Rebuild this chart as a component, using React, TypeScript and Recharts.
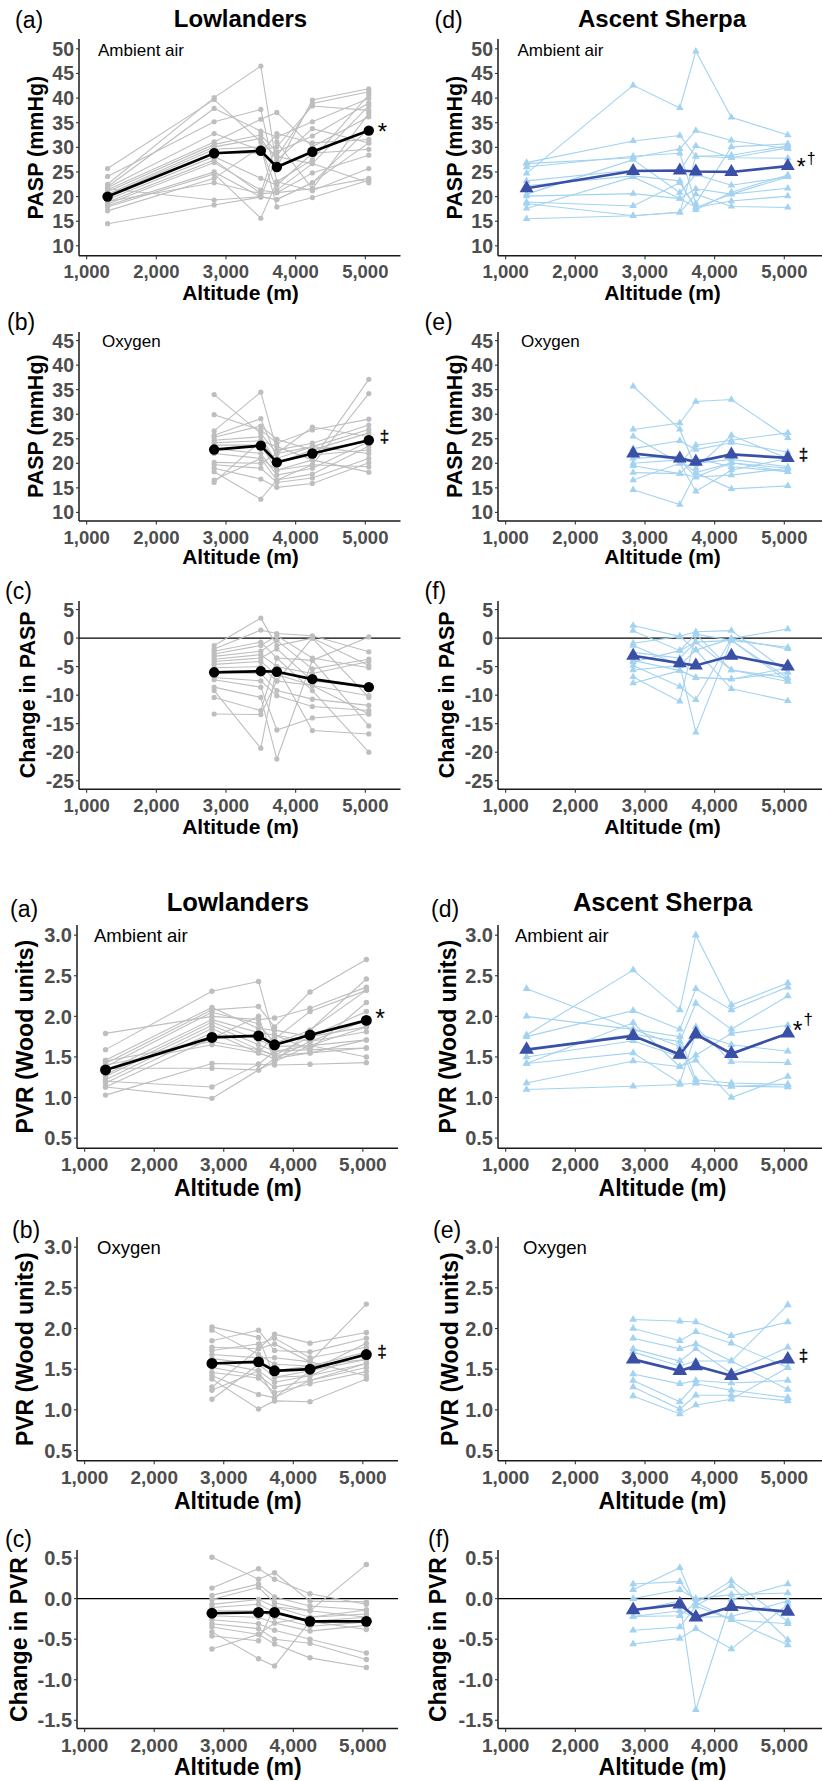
import React from 'react';
import { LineChart, Line, XAxis, YAxis, ReferenceLine } from 'recharts';

const FONT = '"Liberation Sans", Arial, Helvetica, sans-serif';

// ---------- data ----------
const ALTITUDES = [1300, 2830, 3500, 3730, 4240, 5050];
const ALTITUDES_O2 = [2830, 3500, 3730, 4240, 5050];
const X_TICKS = [1000, 2000, 3000, 4000, 5000];

const PASP_AMB_TICKS = [10, 15, 20, 25, 30, 35, 40, 45, 50];
const PASP_O2_TICKS = [10, 15, 20, 25, 30, 35, 40, 45];
const PASP_DIFF_TICKS = [-25, -20, -15, -10, -5, 0, 5];
const PVR_TICKS = [0.5, 1.0, 1.5, 2.0, 2.5, 3.0];
const PVR_DIFF_TICKS = [-1.5, -1.0, -0.5, 0.0, 0.5];

const PASP_LOW_AMB = [
  [25.7, 39.7, 31.1, 28.1, 38.9, 41.3],
  [24.1, 35.2, 37.7, 23.0, 27.5, 40.7],
  [22.5, 40.1, 46.5, 26.0, 39.6, 41.9],
  [22.0, 37.9, 33.3, 32.1, 35.2, 39.9],
  [21.8, 32.8, 29.4, 30.1, 38.4, 37.5],
  [21.4, 31.1, 35.7, 37.1, 30.1, 36.2],
  [21.0, 30.6, 32.5, 29.1, 32.3, 39.0],
  [20.5, 30.1, 31.8, 27.4, 33.8, 30.9],
  [20.2, 29.6, 30.1, 21.3, 26.7, 38.4],
  [19.9, 28.8, 28.8, 32.8, 30.9, 31.6],
  [19.4, 28.1, 23.7, 22.3, 28.8, 29.6],
  [18.9, 27.4, 20.6, 31.1, 21.6, 36.9],
  [18.5, 26.9, 21.3, 20.8, 24.8, 28.4],
  [18.2, 25.0, 19.9, 19.4, 22.8, 33.8],
  [17.9, 24.6, 15.6, 23.0, 21.2, 25.7],
  [17.1, 23.7, 30.1, 17.9, 19.8, 23.3],
  [19.0, 22.8, 20.6, 20.8, 21.6, 23.7],
  [14.5, 18.3, 19.9, 28.1, 26.7, 22.8],
  [21.6, 19.3, 20.0, 19.4, 22.8, 30.9],
];
const PASP_LOW_AMB_MEAN = [20.0, 28.8, 29.3, 26.0, 29.1, 33.4];

const PASP_SHERPA_AMB = [
  [24.7, 42.6, 38.0, 49.5, 36.1, 32.5],
  [26.9, 31.3, 32.4, 28.2, 28.4, 30.3],
  [26.7, 27.9, 29.7, 33.4, 31.4, 29.7],
  [26.0, 28.2, 28.8, 18.6, 30.1, 30.7],
  [23.2, 25.4, 25.2, 30.3, 27.9, 27.8],
  [22.2, 24.2, 23.2, 17.3, 20.9, 24.4],
  [20.5, 27.5, 20.8, 24.5, 22.3, 24.0],
  [20.1, 20.6, 19.6, 21.6, 20.5, 21.7],
  [18.9, 18.1, 22.8, 17.8, 19.1, 20.1],
  [18.6, 16.1, 16.8, 20.5, 18.0, 17.8],
  [17.6, 24.0, 19.6, 17.8, 20.5, 24.0],
  [15.5, 16.1, 16.8, 28.2, 27.9, 29.9],
];
const PASP_SHERPA_AMB_MEAN = [21.7, 25.2, 25.3, 25.1, 25.0, 26.2];

const PASP_LOW_O2 = [
  [34.0, 26.1, 22.0, 27.4, 25.4],
  [29.9, 26.8, 24.1, 26.8, 29.0],
  [26.6, 34.5, 22.7, 24.1, 27.8],
  [25.7, 29.1, 21.0, 23.4, 26.9],
  [25.3, 27.6, 24.9, 22.7, 26.2],
  [24.7, 25.4, 20.1, 21.7, 22.7],
  [24.2, 24.6, 23.4, 20.7, 37.1],
  [23.7, 23.7, 18.6, 19.7, 34.2],
  [23.0, 22.0, 17.6, 19.0, 24.4],
  [22.0, 21.0, 16.6, 17.8, 23.5],
  [20.2, 20.0, 22.0, 23.4, 22.0],
  [19.7, 19.0, 16.1, 17.0, 21.0],
  [19.0, 16.8, 15.1, 15.9, 20.1],
  [18.3, 12.7, 16.6, 19.7, 19.3],
  [16.6, 21.0, 18.6, 20.7, 18.2],
  [16.1, 24.6, 20.1, 22.7, 24.4],
];
const PASP_LOW_O2_MEAN = [22.8, 23.6, 20.2, 22.0, 24.7];

const PASP_SHERPA_O2 = [
  [35.7, 26.9, 19.0, 25.7, 21.0],
  [26.9, 28.2, 32.6, 33.0, 25.2],
  [25.5, 20.0, 23.7, 24.7, 26.2],
  [23.0, 24.6, 22.8, 24.2, 22.3],
  [21.0, 21.5, 20.0, 20.8, 19.3],
  [20.0, 20.7, 18.1, 20.1, 19.0],
  [19.5, 17.9, 21.0, 19.3, 18.3],
  [18.1, 17.9, 17.2, 17.6, 19.0],
  [16.6, 20.0, 14.3, 18.6, 21.0],
  [14.6, 11.6, 18.1, 14.8, 15.4],
  [21.9, 20.7, 17.2, 20.1, 18.3],
];
const PASP_SHERPA_O2_MEAN = [22.0, 21.0, 20.3, 21.8, 21.1];

const PASP_LOW_DIFF = [
  [-1.3, 3.5, -1.3, 0.0, -4.8],
  [-1.9, 1.4, 0.8, 0.4, -2.4],
  [-2.3, -0.7, -3.5, -3.9, 0.2],
  [-2.8, -1.3, 0.4, -3.5, -5.2],
  [-3.2, -2.3, -0.4, -5.4, -3.7],
  [-3.7, -2.9, -5.0, -6.2, -4.1],
  [-4.1, -3.5, -1.9, -7.5, -8.6],
  [-4.6, -4.1, -6.4, -8.3, -10.1],
  [-5.2, -5.0, -7.5, 0.0, -10.4],
  [-6.0, -6.2, -9.2, -10.7, -11.8],
  [-6.9, -7.5, -10.1, -12.0, -12.7],
  [-7.3, -8.6, -16.1, -14.0, -13.3],
  [-8.6, -10.4, -21.2, -3.9, -15.4],
  [-9.2, -19.3, -5.0, -16.2, -16.8],
  [-10.4, -12.7, -3.5, -9.2, -20.0],
  [-13.3, -13.4, -7.5, -8.3, -13.3],
];
const PASP_LOW_DIFF_MEAN = [-6.0, -5.8, -5.9, -7.2, -8.6];

const PASP_SHERPA_DIFF = [
  [2.2, 0.3, 1.1, 1.3, -6.0],
  [1.3, -2.2, 0.7, -0.4, -7.0],
  [-0.9, 0.3, -2.1, -0.1, 1.6],
  [-1.3, -4.8, -16.5, -0.4, -1.6],
  [-2.5, -3.5, -0.7, -5.6, -7.6],
  [-3.9, -5.7, -6.9, -7.2, -5.2],
  [-4.8, -8.5, -10.8, -0.1, -1.9],
  [-5.6, -4.8, -2.1, -8.9, -11.0],
  [-6.8, -11.1, 0.7, -5.6, -7.0],
  [-7.9, -5.7, -6.9, -7.2, -6.0],
  [-4.2, -2.2, -0.7, -0.4, -7.6],
];
const PASP_SHERPA_DIFF_MEAN = [-3.1, -4.4, -4.8, -3.1, -5.0];

const PVR_LOW_AMB = [
  [1.79, 2.00, 1.96, 1.98, 2.10, 2.36],
  [1.59, 2.31, 2.43, 1.72, 2.06, 2.32],
  [1.46, 2.11, 1.85, 1.83, 1.75, 1.87],
  [1.42, 2.08, 2.12, 1.87, 2.30, 2.70],
  [1.38, 2.05, 1.91, 1.67, 1.83, 2.46],
  [1.32, 1.96, 1.80, 1.77, 1.69, 1.81],
  [1.28, 1.93, 1.71, 1.63, 1.64, 1.71],
  [1.26, 1.89, 1.65, 1.57, 1.59, 2.17],
  [1.22, 1.85, 1.59, 1.52, 1.55, 1.61],
  [1.18, 1.80, 1.55, 1.48, 1.69, 1.95],
  [1.13, 1.73, 2.00, 1.44, 1.64, 1.50],
  [1.03, 1.42, 1.41, 1.40, 1.41, 1.43],
  [1.45, 1.69, 1.59, 1.52, 1.75, 2.06],
  [1.40, 1.65, 1.55, 1.77, 1.59, 1.61],
  [1.36, 1.36, 1.34, 1.48, 1.55, 1.71],
  [1.13, 0.99, 1.34, 1.44, 1.83, 2.32],
  [1.20, 1.13, 1.41, 1.57, 1.64, 1.87],
];
const PVR_LOW_AMB_MEAN = [1.34, 1.74, 1.76, 1.65, 1.77, 1.95];

const PVR_SHERPA_AMB = [
  [2.34, 1.84, 1.63, 1.18, 1.14, 1.13],
  [2.00, 1.84, 1.75, 1.22, 1.18, 1.16],
  [1.77, 2.57, 2.08, 3.00, 2.14, 2.41],
  [1.75, 2.07, 1.84, 2.34, 2.08, 2.36],
  [1.59, 1.78, 1.69, 2.16, 1.84, 2.25],
  [1.50, 1.70, 1.50, 1.87, 1.44, 1.43],
  [1.42, 1.92, 1.38, 1.52, 1.79, 1.89],
  [1.42, 1.55, 1.18, 1.79, 1.65, 1.57],
  [1.18, 1.45, 1.38, 1.46, 1.00, 1.26],
  [1.10, 1.14, 1.16, 1.18, 1.14, 1.16],
];
const PVR_SHERPA_AMB_MEAN = [1.59, 1.76, 1.53, 1.78, 1.54, 1.79];

const PVR_LOW_O2 = [
  [2.02, 1.89, 1.40, 1.48, 1.82],
  [1.98, 1.68, 1.56, 1.54, 1.62],
  [1.85, 1.98, 1.73, 1.71, 1.88],
  [1.77, 1.75, 1.93, 1.82, 1.95],
  [1.73, 1.81, 1.88, 1.64, 1.77],
  [1.68, 1.64, 1.64, 1.59, 2.30],
  [1.63, 1.56, 1.48, 1.54, 1.71],
  [1.59, 1.48, 1.34, 1.42, 1.57],
  [1.52, 1.42, 1.28, 1.36, 1.52],
  [1.46, 1.39, 1.21, 1.32, 1.47],
  [1.42, 1.19, 1.15, 1.48, 1.62],
  [1.38, 1.01, 1.11, 1.10, 1.38],
  [1.28, 1.75, 1.81, 1.59, 1.42],
  [1.24, 1.48, 1.15, 1.36, 1.57],
  [1.13, 1.56, 1.40, 1.42, 1.71],
];
const PVR_LOW_O2_MEAN = [1.57, 1.59, 1.48, 1.50, 1.68];

const PVR_SHERPA_O2 = [
  [2.11, 2.09, 2.08, 1.91, 2.08],
  [2.00, 1.85, 1.96, 1.82, 1.52],
  [1.88, 1.75, 1.81, 1.60, 2.29],
  [1.75, 1.60, 1.75, 1.45, 1.77],
  [1.71, 1.54, 1.60, 1.60, 1.25],
  [1.44, 1.32, 1.36, 1.33, 1.36],
  [1.36, 1.10, 1.32, 1.24, 1.15],
  [1.28, 1.01, 1.18, 1.18, 1.11],
  [1.17, 0.95, 1.06, 1.13, 1.52],
];
const PVR_SHERPA_O2_MEAN = [1.62, 1.48, 1.54, 1.42, 1.62];

const PVR_LOW_DIFF = [
  [0.51, 0.24, 0.32, -0.03, -0.04],
  [0.13, 0.37, 0.24, 0.06, -0.07],
  [0.04, 0.18, 0.02, -0.09, -0.14],
  [-0.01, 0.14, -0.05, -0.15, 0.42],
  [-0.07, -0.01, -0.10, -0.23, -0.19],
  [-0.11, -0.07, -0.17, -0.28, -0.23],
  [-0.15, -0.15, -0.23, -0.34, -0.29],
  [-0.21, -0.23, -0.30, -0.40, -0.33],
  [-0.26, -0.31, -0.39, -0.50, -0.67],
  [-0.31, -0.37, -0.50, -0.55, -0.75],
  [-0.35, -0.44, -0.56, -0.73, -0.85],
  [-0.41, -0.74, -0.83, -0.28, -0.38],
  [-0.46, -0.52, -0.10, -0.15, -0.23],
  [-0.62, -0.44, -0.30, -0.23, -0.14],
];
const PVR_LOW_DIFF_MEAN = [-0.18, -0.17, -0.17, -0.28, -0.28];

const PVR_SHERPA_DIFF = [
  [0.18, 0.21, -0.05, 0.22, -0.28],
  [0.11, 0.38, -0.09, 0.16, -0.51],
  [0.00, 0.11, 0.00, 0.05, 0.07],
  [-0.15, -0.03, -1.37, -0.01, 0.18],
  [-0.22, -0.15, -0.23, -0.22, -0.03],
  [-0.39, -0.35, -0.09, -0.26, -0.31],
  [-0.56, -0.49, -0.37, -0.62, -0.07],
  [-0.22, -0.21, -0.05, -0.26, -0.57],
];
const PVR_SHERPA_DIFF_MEAN = [-0.14, -0.07, -0.23, -0.10, -0.16];

// ---------- styling ----------
const LOW_LIGHT = '#BEBEBE';
const LOW_DARK = '#000000';
const SHERPA_LIGHT = '#A3D3F0';
const SHERPA_DARK = '#3A4FA6';
const TICK_COLOR = '#4D4D4D';

const X_DOMAIN_L: [number, number] = [890, 5505];
const X_DOMAIN_R: [number, number] = [890, 5541];

type Note = 'star' | 'stardagger' | 'ddagger' | 'none';

type PanelSpec = {
  left: number; top: number; w: number; h: number;
  xDomain: [number, number];
  alts: number[]; subjects: number[][]; mean: number[];
  yDomain: [number, number]; yTicks: number[]; yDec: number;
  sherpa: boolean; note: Note; zero?: boolean; fs: number; yfs: number; big: number;
};

function buildRows(alts: number[], subjects: number[][], mean: number[]) {
  return alts.map((a, i) => {
    const r: any = { alt: a, mean: mean[i] };
    subjects.forEach((s, j) => { r['s' + j] = s[i]; });
    return r;
  });
}

function fmtThousands(v: number) {
  const s = String(Math.round(v));
  return s.replace(/\B(?=(\d{3})+(?!\d))/g, ',');
}

function tri(cx: number, cy: number, w: number, h: number) {
  return `${cx},${cy - (h * 2) / 3} ${cx - w / 2},${cy + h / 3} ${cx + w / 2},${cy + h / 3}`;
}

function noteElement(kind: Note, x: number, y: number, big: number) {
  const pvr = big > 1;
  if (kind === 'star') {
    return (
      <text x={x + 9} y={y + (pvr ? 7 : 9)} fontSize={pvr ? 25 : 24} fontFamily={FONT} fill="#000">*</text>
    );
  }
  if (kind === 'stardagger') {
    return (
      <text x={x + (pvr ? 5 : 9)} y={y + (pvr ? 6 : 9)} fontSize={pvr ? 25 : 23} fontFamily={FONT} fill="#000">
        *<tspan fontSize={pvr ? 17 : 16} dx={1} dy={pvr ? -14 : -11} fill="#000">†</tspan>
      </text>
    );
  }
  if (kind === 'ddagger') {
    return (
      <text x={x + 11} y={y + 2} fontSize={17} fontFamily={FONT} fill="#000" stroke="#000" strokeWidth={0.3}>‡</text>
    );
  }
  return null;
}

function Panel({ spec }: { spec: PanelSpec }) {
  const YW = 80, MT = 14, MR = 4, XH = 30;
  const rows = buildRows(spec.alts, spec.subjects, spec.mean);
  const lastAlt = spec.alts[spec.alts.length - 1];
  const light = spec.sherpa ? SHERPA_LIGHT : LOW_LIGHT;
  const dark = spec.sherpa ? SHERPA_DARK : LOW_DARK;
  const fs = spec.fs;
  const yfs = spec.yfs;
  const k = spec.big;

  const XTick = (p: any) => (
    <text x={p.x} y={p.y} dy={fs * 0.93} textAnchor="middle" fontSize={fs} fontWeight="bold"
      fill={TICK_COLOR} fontFamily={FONT}>{fmtThousands(p.payload.value)}</text>
  );
  const YTick = (p: any) => (
    <text x={p.x} y={p.y} dy={yfs * 0.36} textAnchor="end" fontSize={yfs} fontWeight="bold"
      fill={TICK_COLOR} fontFamily={FONT}>{Number(p.payload.value).toFixed(spec.yDec)}</text>
  );

  const smallDot = (p: any) => {
    const key = `d-${p.dataKey}-${p.index}`;
    if (p.cx == null || p.cy == null || p.value == null) return <g key={key} />;
    if (spec.sherpa) return <polygon key={key} points={tri(p.cx, p.cy, 7.5 * k, 6.5 * k)} fill={light} />;
    return <circle key={key} cx={p.cx} cy={p.cy} r={2.6 * k} fill={light} />;
  };
  const meanDot = (p: any) => {
    const key = `m-${p.index}`;
    if (p.cx == null || p.cy == null) return <g key={key} />;
    const isLast = p.payload && p.payload.alt === lastAlt;
    return (
      <g key={key}>
        {spec.sherpa
          ? <polygon points={tri(p.cx, p.cy, 14 * k, 12 * k)} fill={dark} />
          : <circle cx={p.cx} cy={p.cy} r={5.2 * k} fill={dark} />}
        {isLast ? noteElement(spec.note, p.cx, p.cy, k) : null}
      </g>
    );
  };

  return (
    <div style={{ position: 'absolute', left: spec.left - YW, top: spec.top - MT }}>
      <LineChart width={YW + spec.w + MR} height={MT + spec.h + XH} data={rows}
        margin={{ top: MT, right: MR, bottom: 0, left: 0 }}>
        <XAxis dataKey="alt" type="number" domain={spec.xDomain} ticks={X_TICKS} allowDataOverflow
          height={XH} tickSize={3.5} tickMargin={2} tick={XTick} interval={0}
          axisLine={{ stroke: '#1a1a1a', strokeWidth: 1.5 }} tickLine={{ stroke: '#333333', strokeWidth: 1.1 }} />
        <YAxis type="number" domain={spec.yDomain} ticks={spec.yTicks} allowDataOverflow width={YW}
          tickSize={3} tickMargin={2} tick={YTick} interval={0}
          axisLine={{ stroke: '#1a1a1a', strokeWidth: 1.5 }} tickLine={{ stroke: '#333333', strokeWidth: 1.1 }} />
        {spec.zero ? <ReferenceLine y={0} stroke="#000" strokeWidth={1.4} /> : null}
        {spec.subjects.map((_, j) => (
          <Line key={'s' + j} dataKey={'s' + j} type="linear" stroke={light} strokeWidth={1.1}
            dot={smallDot} activeDot={false} isAnimationActive={false} connectNulls />
        ))}
        <Line dataKey="mean" type="linear" stroke={dark} strokeWidth={2.7}
          dot={meanDot} activeDot={false} isAnimationActive={false} />
      </LineChart>
    </div>
  );
}

// ---------- layout ----------
const PASP_L = 79.3, PASP_R = 498, PVR_L = 77.3, PVR_R = 498;
const WL = 321.5, WR = 324;

const PANELS: PanelSpec[] = [
  { left: PASP_L, top: 39.3, w: WL, h: 216.7, xDomain: X_DOMAIN_L, alts: ALTITUDES, subjects: PASP_LOW_AMB, mean: PASP_LOW_AMB_MEAN, yDomain: [8, 52], yTicks: PASP_AMB_TICKS, yDec: 0, sherpa: false, note: 'star', fs: 18.5, yfs: 19.5, big: 1 },
  { left: PASP_R, top: 39.3, w: WR, h: 216.7, xDomain: X_DOMAIN_R, alts: ALTITUDES, subjects: PASP_SHERPA_AMB, mean: PASP_SHERPA_AMB_MEAN, yDomain: [8, 52], yTicks: PASP_AMB_TICKS, yDec: 0, sherpa: true, note: 'stardagger', fs: 18.5, yfs: 19.5, big: 1 },
  { left: PASP_L, top: 331.7, w: WL, h: 189, xDomain: X_DOMAIN_L, alts: ALTITUDES_O2, subjects: PASP_LOW_O2, mean: PASP_LOW_O2_MEAN, yDomain: [8.25, 46.75], yTicks: PASP_O2_TICKS, yDec: 0, sherpa: false, note: 'ddagger', fs: 18.5, yfs: 19.5, big: 1 },
  { left: PASP_R, top: 331.7, w: WR, h: 189, xDomain: X_DOMAIN_R, alts: ALTITUDES_O2, subjects: PASP_SHERPA_O2, mean: PASP_SHERPA_O2_MEAN, yDomain: [8.25, 46.75], yTicks: PASP_O2_TICKS, yDec: 0, sherpa: true, note: 'ddagger', fs: 18.5, yfs: 19.5, big: 1 },
  { left: PASP_L, top: 600.7, w: WL, h: 188.3, xDomain: X_DOMAIN_L, alts: ALTITUDES_O2, subjects: PASP_LOW_DIFF, mean: PASP_LOW_DIFF_MEAN, yDomain: [-26.5, 6.5], yTicks: PASP_DIFF_TICKS, yDec: 0, sherpa: false, note: 'none', zero: true, fs: 18.5, yfs: 19.5, big: 1 },
  { left: PASP_R, top: 600.7, w: WR, h: 188.3, xDomain: X_DOMAIN_R, alts: ALTITUDES_O2, subjects: PASP_SHERPA_DIFF, mean: PASP_SHERPA_DIFF_MEAN, yDomain: [-26.5, 6.5], yTicks: PASP_DIFF_TICKS, yDec: 0, sherpa: true, note: 'none', zero: true, fs: 18.5, yfs: 19.5, big: 1 },
  { left: PVR_L, top: 925, w: 321, h: 223.3, xDomain: X_DOMAIN_L, alts: ALTITUDES, subjects: PVR_LOW_AMB, mean: PVR_LOW_AMB_MEAN, yDomain: [0.375, 3.125], yTicks: PVR_TICKS, yDec: 1, sherpa: false, note: 'star', fs: 19, yfs: 20, big: 1.05 },
  { left: PVR_R, top: 925, w: WR, h: 223.3, xDomain: X_DOMAIN_R, alts: ALTITUDES, subjects: PVR_SHERPA_AMB, mean: PVR_SHERPA_AMB_MEAN, yDomain: [0.375, 3.125], yTicks: PVR_TICKS, yDec: 1, sherpa: true, note: 'stardagger', fs: 19, yfs: 20, big: 1.05 },
  { left: PVR_L, top: 1237.3, w: 321, h: 223.7, xDomain: X_DOMAIN_L, alts: ALTITUDES_O2, subjects: PVR_LOW_O2, mean: PVR_LOW_O2_MEAN, yDomain: [0.375, 3.125], yTicks: PVR_TICKS, yDec: 1, sherpa: false, note: 'ddagger', fs: 19, yfs: 20, big: 1.05 },
  { left: PVR_R, top: 1237.3, w: WR, h: 223.7, xDomain: X_DOMAIN_R, alts: ALTITUDES_O2, subjects: PVR_SHERPA_O2, mean: PVR_SHERPA_O2_MEAN, yDomain: [0.375, 3.125], yTicks: PVR_TICKS, yDec: 1, sherpa: true, note: 'ddagger', fs: 19, yfs: 20, big: 1.05 },
  { left: PVR_L, top: 1550.3, w: 321, h: 178.4, xDomain: X_DOMAIN_L, alts: ALTITUDES_O2, subjects: PVR_LOW_DIFF, mean: PVR_LOW_DIFF_MEAN, yDomain: [-1.6, 0.6], yTicks: PVR_DIFF_TICKS, yDec: 1, sherpa: false, note: 'none', zero: true, fs: 19, yfs: 20, big: 1.05 },
  { left: PVR_R, top: 1550.3, w: WR, h: 178.4, xDomain: X_DOMAIN_R, alts: ALTITUDES_O2, subjects: PVR_SHERPA_DIFF, mean: PVR_SHERPA_DIFF_MEAN, yDomain: [-1.6, 0.6], yTicks: PVR_DIFF_TICKS, yDec: 1, sherpa: true, note: 'none', zero: true, fs: 19, yfs: 20, big: 1.05 },
];

// ---------- text overlay ----------
function T(props: any) {
  const { x, y, size, bold, anchor, children } = props;
  return (
    <text x={x} y={y} fontSize={size} fontWeight={bold ? 'bold' : 'normal'} textAnchor={anchor || 'start'}
      fontFamily={FONT} fill="#000">{children}</text>
  );
}
function VT(props: any) {
  const { x, y, size, children } = props;
  return (
    <text transform={`translate(${x},${y}) rotate(-90)`} fontSize={size} fontWeight="bold" textAnchor="middle"
      fontFamily={FONT} fill="#000">{children}</text>
  );
}

function Overlay() {
  return (
    <svg width={822} height={1781} style={{ position: 'absolute', left: 0, top: 0, pointerEvents: 'none' }}>
      {/* PASP block */}
      <T x={15} y={28} size={23}>(a)</T>
      <T x={240.5} y={26.5} size={24} bold anchor="middle">Lowlanders</T>
      <T x={434.5} y={28} size={23}>(d)</T>
      <T x={662} y={26.5} size={24} bold anchor="middle">Ascent Sherpa</T>
      <T x={98} y={55.5} size={17}>Ambient air</T>
      <T x={517.5} y={55.5} size={17}>Ambient air</T>
      <VT x={43} y={147.6} size={21.5}>PASP (mmHg)</VT>
      <VT x={462} y={147.6} size={21.5}>PASP (mmHg)</VT>
      <T x={240.5} y={299.5} size={21} bold anchor="middle">Altitude (m)</T>
      <T x={662.5} y={299.5} size={21} bold anchor="middle">Altitude (m)</T>

      <T x={7} y={330} size={23}>(b)</T>
      <T x={424.5} y={330} size={23}>(e)</T>
      <T x={102} y={347} size={17}>Oxygen</T>
      <T x={521} y={347} size={17}>Oxygen</T>
      <VT x={43} y={426.2} size={21.5}>PASP (mmHg)</VT>
      <VT x={462} y={426.2} size={21.5}>PASP (mmHg)</VT>
      <T x={240.5} y={564} size={21} bold anchor="middle">Altitude (m)</T>
      <T x={662.5} y={564} size={21} bold anchor="middle">Altitude (m)</T>

      <T x={5} y={599} size={23}>(c)</T>
      <T x={424.5} y={599} size={23}>(f)</T>
      <VT x={35} y={694.8} size={21.5}>Change in PASP</VT>
      <VT x={454} y={694.8} size={21.5}>Change in PASP</VT>
      <T x={240.5} y={834} size={21} bold anchor="middle">Altitude (m)</T>
      <T x={662.5} y={834} size={21} bold anchor="middle">Altitude (m)</T>

      {/* PVR block */}
      <T x={10} y={917} size={23}>(a)</T>
      <T x={237.8} y={910.5} size={25.6} bold anchor="middle">Lowlanders</T>
      <T x={431} y={917} size={23}>(d)</T>
      <T x={662.5} y={910.5} size={25.6} bold anchor="middle">Ascent Sherpa</T>
      <T x={94} y={941.7} size={18.5}>Ambient air</T>
      <T x={515} y={941.7} size={18.5}>Ambient air</T>
      <VT x={33.2} y={1036.7} size={23}>PVR (Wood units)</VT>
      <VT x={455.8} y={1036.7} size={23}>PVR (Wood units)</VT>
      <T x={237.8} y={1196} size={23} bold anchor="middle">Altitude (m)</T>
      <T x={662.5} y={1196} size={23} bold anchor="middle">Altitude (m)</T>

      <T x={12} y={1238} size={23}>(b)</T>
      <T x={433} y={1238} size={23}>(e)</T>
      <T x={97} y={1254} size={18.5}>Oxygen</T>
      <T x={523} y={1254} size={18.5}>Oxygen</T>
      <VT x={33.2} y={1349.2} size={23}>PVR (Wood units)</VT>
      <VT x={457.5} y={1349.2} size={23}>PVR (Wood units)</VT>
      <T x={237.8} y={1509} size={23} bold anchor="middle">Altitude (m)</T>
      <T x={662.5} y={1509} size={23} bold anchor="middle">Altitude (m)</T>

      <T x={5} y={1546.5} size={23}>(c)</T>
      <T x={428} y={1546.5} size={23}>(f)</T>
      <VT x={26.5} y={1639.5} size={23}>Change in PVR</VT>
      <VT x={445.8} y={1639.5} size={23}>Change in PVR</VT>
      <T x={237.8} y={1775} size={23} bold anchor="middle">Altitude (m)</T>
      <T x={662.5} y={1775} size={23} bold anchor="middle">Altitude (m)</T>
    </svg>
  );
}

export default function App() {
  return (
    <div style={{ position: 'absolute', left: 0, top: 0, width: 822, height: 1781, overflow: 'hidden', background: '#fff' }}>
      <style>{`.recharts-surface{overflow:visible}`}</style>
      {PANELS.map((p, i) => <Panel key={i} spec={p} />)}
      <Overlay />
    </div>
  );
}
